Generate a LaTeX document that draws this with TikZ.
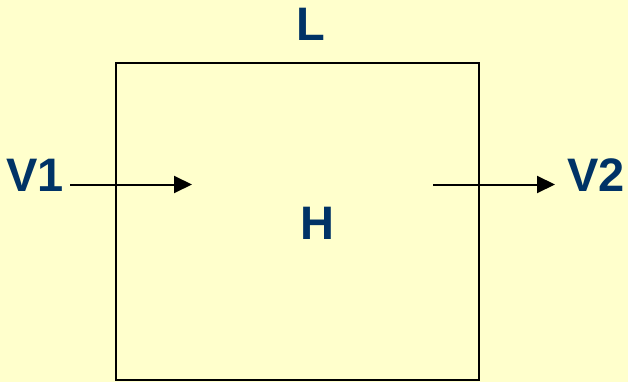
\documentclass[tikz,border=0pt]{standalone}
\usepackage{fontspec}
\setmainfont{Liberation Sans}
\usetikzlibrary{arrows.meta}
\definecolor{bg}{HTML}{FFFFCC}
\definecolor{lbl}{HTML}{003366}
\begin{document}
\begin{tikzpicture}[x=1pt,y=-1pt,
  lab/.style={inner sep=0pt,text=lbl,font=\fontsize{47}{47}\selectfont\bfseries},
  flow/.style={line width=2pt,-{Triangle[length=18pt,width=17pt]}}]
\fill[bg] (0,0) rectangle (628,382);
\useasboundingbox (0,0) rectangle (628,382);
\draw[line width=2.2pt] (116,63) rectangle (479,380);
\node[lab] (L) at (311,24.5) {L};
\node[lab] (V1) at (35,175.5) {V\kern-1pt1};
\node[lab] (V2) at (596,175.5) {V\kern-1pt2};
\node[lab] (H) at (317,223.5) {H};
\coordinate (a1s) at (70,184.5);
\coordinate (a1e) at (192,184.5);
\coordinate (a2s) at (433,184.5);
\coordinate (a2e) at (555,184.5);
\draw[flow] (a1s) -- (a1e);
\draw[flow] (a2s) -- (a2e);
\end{tikzpicture}
\end{document}
